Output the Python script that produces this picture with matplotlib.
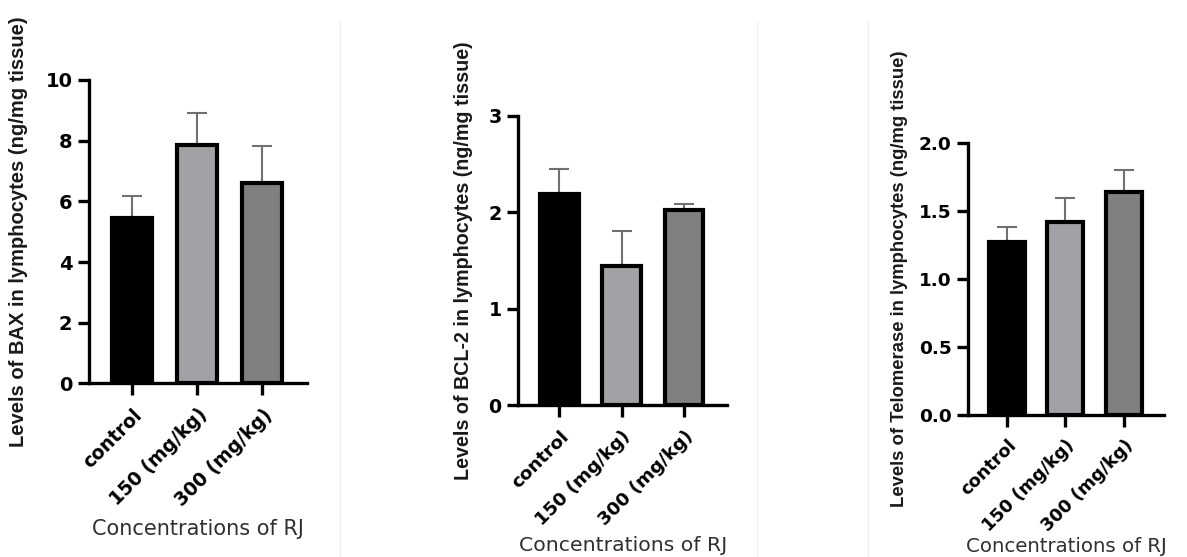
import matplotlib
matplotlib.use("Agg")
import matplotlib.pyplot as plt
from matplotlib.lines import Line2D

plt.rcParams['font.family'] = ['DejaVu Sans']

# groups on the x axis
groups = ['control', '150 (mg/kg)', '300 (mg/kg)']
bar_colors = ['#000000', '#a2a2a6', '#808080']

# BAX panel
bax_mean = [5.44, 7.87, 6.59]
bax_err = [0.75, 1.05, 1.24]

# BCL-2 panel
bcl2_mean = [2.19, 1.44, 2.02]
bcl2_err = [0.26, 0.37, 0.07]

# Telomerase panel
telo_mean = [1.27, 1.42, 1.64]
telo_err = [0.11, 0.175, 0.16]

ylabels = [
    'Levels of BAX in lymphocytes (ng/mg tissue)',
    'Levels of BCL-2 in lymphocytes (ng/mg tissue)',
    'Levels of Telomerase in lymphocytes (ng/mg tissue)',
]
xlabel = 'Concentrations of RJ'

fig = plt.figure(figsize=(11.87, 5.57), dpi=100)

# faint separators of the composed figure
for xf in [340 / 1187, 757 / 1187, 868 / 1187]:
    fig.add_artist(Line2D([xf, xf], [0.0, 0.96], color='#f0f0f0', lw=1,
                          transform=fig.transFigure))

panels = [
    dict(rect=[0.0752, 0.3115, 0.1834, 0.5449], mean=bax_mean, err=bax_err,
         ylim=(0, 10), yticks=[0, 2, 4, 6, 8, 10], fmt='{:g}',
         ylab=ylabels[0], ylab_x=-0.282, ylab_size=14.5,
         xlab_y=-0.445, scale=1.0),
    dict(rect=[0.4367, 0.2720, 0.1758, 0.5203], mean=bcl2_mean, err=bcl2_err,
         ylim=(0, 3), yticks=[0, 1, 2, 3], fmt='{:g}',
         ylab=ylabels[1], ylab_x=-0.217, ylab_size=14.2,
         xlab_y=-0.45, scale=0.98),
    dict(rect=[0.8158, 0.2555, 0.1649, 0.4883], mean=telo_mean, err=telo_err,
         ylim=(0, 2), yticks=[0, 0.5, 1.0, 1.5, 2.0], fmt='{:.1f}',
         ylab=ylabels[2], ylab_x=-0.308, ylab_size=13.3,
         xlab_y=-0.45, scale=0.95),
]

for p in panels:
    ax = fig.add_axes(p['rect'])
    s = p['scale']
    x = list(range(len(groups)))
    ax.errorbar(x, p['mean'], yerr=[[0] * len(x), p['err']], fmt='none',
                ecolor='#707070', elinewidth=1.5, capsize=7.5, capthick=1.5,
                zorder=1)
    ax.bar(x, p['mean'], width=0.62, color=bar_colors, edgecolor='black',
           linewidth=3.0, zorder=2)

    ax.set_xlim(-0.66, 2.69)
    ax.set_ylim(*p['ylim'])
    ax.set_yticks(p['yticks'])
    ax.set_yticklabels([p['fmt'].format(v) for v in p['yticks']],
                       fontsize=14 * s, fontweight='bold')
    ax.set_xticks(x)
    ax.set_xticklabels(groups, rotation=45, ha='right', va='top',
                       rotation_mode='anchor', fontsize=13.5 * s,
                       fontweight='bold')

    for side in ['top', 'right']:
        ax.spines[side].set_visible(False)
    for side in ['left', 'bottom']:
        ax.spines[side].set_linewidth(2.4)
    ax.tick_params(axis='y', length=8, width=2.4, pad=4)
    ax.tick_params(axis='x', length=8.6, width=2.4, pad=7)

    ax.set_ylabel(p['ylab'], fontsize=p['ylab_size'], fontweight='bold',
                  color='#1a1a1a', family='Liberation Sans')
    ax.yaxis.set_label_coords(p['ylab_x'], 0.5)
    ax.set_xlabel(xlabel, fontsize=15 * s, color='#303030')
    ax.xaxis.set_label_coords(0.5, p['xlab_y'])

fig.savefig('out.png', dpi=100)
